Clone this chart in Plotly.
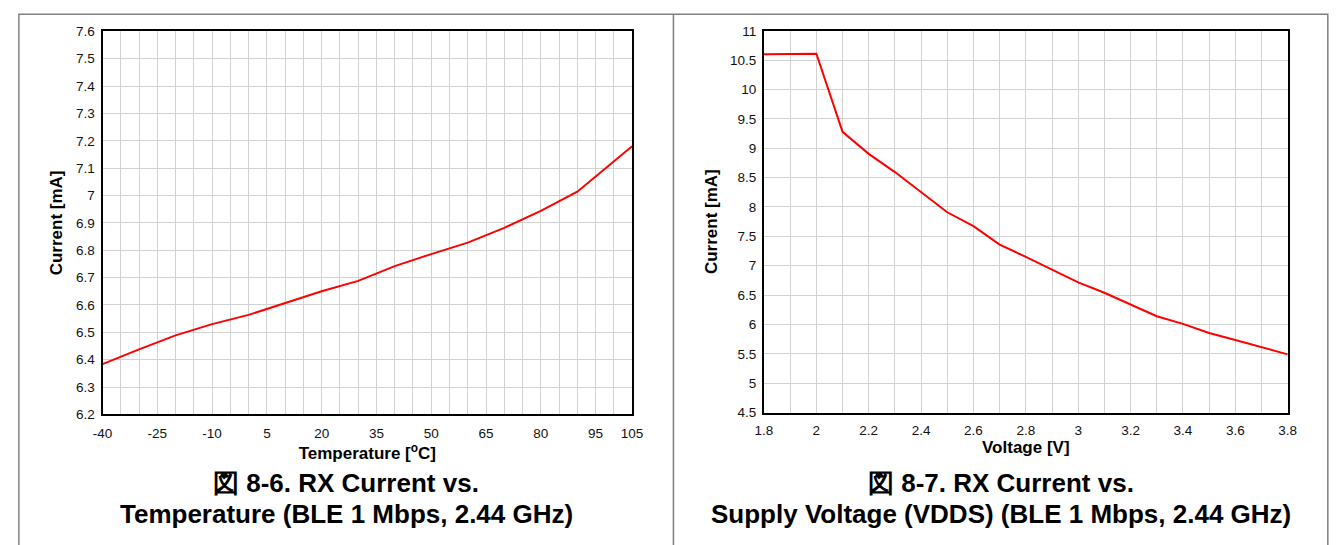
import plotly.graph_objects as go

# ---------------- data ----------------
temperature_c = [-40, -30, -20, -10, 0, 10, 20, 30, 40, 50, 60, 70, 80, 90, 105]
rx_current_temp_ma = [6.384, 6.438, 6.489, 6.530, 6.564, 6.608, 6.650, 6.688,
                      6.742, 6.786, 6.828, 6.882, 6.944, 7.014, 7.180]

voltage_v = [1.8, 2.0, 2.1, 2.2, 2.3, 2.4, 2.5, 2.6, 2.7, 2.8, 2.9, 3.0,
             3.1, 3.2, 3.3, 3.4, 3.5, 3.6, 3.7, 3.8]
rx_current_volt_ma = [10.60, 10.61, 9.28, 8.905, 8.595, 8.25, 7.91, 7.675, 7.36,
                      7.15, 6.93, 6.715, 6.54, 6.345, 6.14, 6.01, 5.855, 5.735,
                      5.61, 5.49]

temp_tick_vals = [-40, -25, -10, 5, 20, 35, 50, 65, 80, 95, 105]
temp_tick_text = ["-40", "-25", "-10", "5", "20", "35", "50", "65", "80", "95", "105"]
cur1_tick_vals = [6.2, 6.3, 6.4, 6.5, 6.6, 6.7, 6.8, 6.9, 7.0, 7.1, 7.2, 7.3, 7.4, 7.5, 7.6]
cur1_tick_text = ["6.2", "6.3", "6.4", "6.5", "6.6", "6.7", "6.8", "6.9", "7",
                  "7.1", "7.2", "7.3", "7.4", "7.5", "7.6"]
volt_tick_vals = [1.8, 2.0, 2.2, 2.4, 2.6, 2.8, 3.0, 3.2, 3.4, 3.6, 3.8]
volt_tick_text = ["1.8", "2", "2.2", "2.4", "2.6", "2.8", "3", "3.2", "3.4", "3.6", "3.8"]
cur2_tick_vals = [4.5, 5, 5.5, 6, 6.5, 7, 7.5, 8, 8.5, 9, 9.5, 10, 10.5, 11]
cur2_tick_text = ["4.5", "5", "5.5", "6", "6.5", "7", "7.5", "8", "8.5", "9",
                  "9.5", "10", "10.5", "11"]

caption_left = ["図 8-6. RX Current vs.", "Temperature (BLE 1 Mbps, 2.44 GHz)"]
caption_right = ["図 8-7. RX Current vs.", "Supply Voltage (VDDS) (BLE 1 Mbps, 2.44 GHz)"]

# ---------------- layout helpers ----------------
W, H = 1340, 545

def px(x):
    return x / W

def py(y):
    return 1 - y / H

FONT = "Liberation Sans, Arial, sans-serif"
GRID = "#d2d2d2"

fig = go.Figure()
fig.add_trace(go.Scatter(x=temperature_c, y=rx_current_temp_ma, mode="lines",
                         line=dict(color="#ff0000", width=2), xaxis="x", yaxis="y",
                         showlegend=False))
fig.add_trace(go.Scatter(x=voltage_v, y=rx_current_volt_ma, mode="lines",
                         line=dict(color="#ff0000", width=2), xaxis="x2", yaxis="y2",
                         showlegend=False))

common = dict(showline=True, mirror=True, linecolor="black", linewidth=2,
              showgrid=True, gridcolor=GRID, gridwidth=1, zeroline=False,
              ticks="", tickfont=dict(family=FONT, size=13.5, color="#111"),
              fixedrange=True)
title_font = dict(family=FONT, size=17, color="black")

fig.update_layout(
    width=W, height=H, autosize=False,
    margin=dict(l=0, r=0, t=0, b=0),
    paper_bgcolor="white", plot_bgcolor="white",
    font=dict(family=FONT, color="black"),
    xaxis=dict(domain=[px(94), px(632)], range=[-40, 105], anchor="y",
               tickmode="array", tickvals=temp_tick_vals, ticktext=temp_tick_text,
               minor=dict(dtick=5, tick0=-40, showgrid=True, gridcolor=GRID, gridwidth=1),
               ticklabelstandoff=5,
               title=dict(text="<b>Temperature [<sup>o</sup>C]</b>", standoff=1,
                          font=title_font),
               **common),
    yaxis=dict(domain=[py(419), py(25)], range=[6.2, 7.6], anchor="x",
               tickmode="array", tickvals=cur1_tick_vals, ticktext=cur1_tick_text,
               ticklabelstandoff=3,
               title=dict(text="<b>Current [mA]</b>", standoff=9, font=title_font),
               **common),
    xaxis2=dict(domain=[px(766), px(1298)], range=[1.8, 3.8], anchor="y2",
                tickmode="array", tickvals=volt_tick_vals, ticktext=volt_tick_text,
                minor=dict(dtick=0.1, tick0=1.8, showgrid=True, gridcolor=GRID, gridwidth=1),
                ticklabelstandoff=4,
                title=dict(text="<b>Voltage [V]</b>", standoff=2, font=title_font),
                **common),
    yaxis2=dict(domain=[py(417), py(24.5)], range=[4.5, 11], anchor="x2",
                tickmode="array", tickvals=cur2_tick_vals, ticktext=cur2_tick_text,
                ticklabelstandoff=3,
                title=dict(text="<b>Current [mA]</b>", standoff=8, font=title_font),
                **common),
)

# panel borders
border = dict(color="#808080", width=1.5)
fig.add_shape(type="rect", xref="paper", yref="paper",
              x0=px(9), x1=px(1338.8), y0=py(560), y1=py(7.5), line=border, layer="below")
fig.add_shape(type="line", xref="paper", yref="paper",
              x0=px(674), x1=px(674), y0=py(560), y1=py(7.5), line=border, layer="below")

# captions
cap_font = dict(family=FONT, size=26, color="black")
for cx, lines in ((341.5, caption_left), (1006.5, caption_right)):
    for cy, txt in zip((489.5, 521.5), lines):
        fig.add_annotation(x=px(cx), y=py(cy), xref="paper", yref="paper",
                           text="<b>" + txt + "</b>", showarrow=False,
                           xanchor="center", yanchor="middle", font=cap_font)

fig.write_html("out.html", config={"displayModeBar": False, "staticPlot": True},
               post_script="document.body.style.margin='0';")
